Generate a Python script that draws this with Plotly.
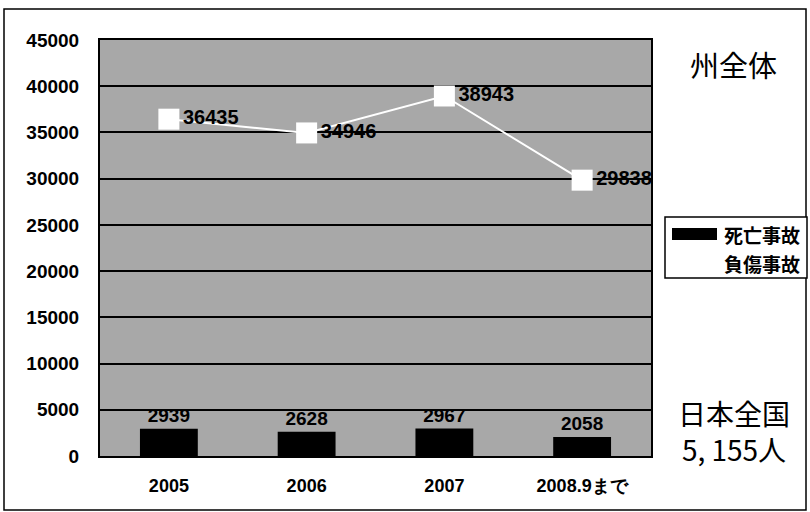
import plotly.graph_objects as go

# Data
categories = ["2005", "2006", "2007", "2008.9まで"]
fatal = [2939, 2628, 2967, 2058]        # 死亡事故
injury = [36435, 34946, 38943, 29838]   # 負傷事故
y_ticks = [0, 5000, 10000, 15000, 20000, 25000, 30000, 35000, 40000, 45000]

W, H = 810, 512
L, R, T, B = 100, 651, 40, 456


def px(x):
    return (x - L) / (R - L)


def py(y):
    return (B - y) / (B - T)


NUM = "Liberation Sans, Arial"
CJK = "Noto Sans CJK JP"

fig = go.Figure()

fig.add_trace(go.Bar(
    x=categories, y=fatal, name="死亡事故",
    marker=dict(color="black", line=dict(width=0)),
    width=0.42,
    text=fatal, textposition="outside", cliponaxis=False,
    textfont=dict(family=NUM, size=19, color="black", weight="bold"),
    showlegend=False,
))

fig.add_trace(go.Scatter(
    x=categories, y=injury, name="負傷事故",
    mode="lines+markers+text",
    line=dict(color="white", width=2),
    marker=dict(symbol="square", size=21, color="white"),
    text=[f"{v}" for v in injury], textposition="middle right",
    textfont=dict(family=NUM, size=20, color="black", weight="bold"),
    cliponaxis=False, showlegend=False,
))

fig.update_layout(
    width=W, height=H,
    margin=dict(l=L, r=W - R, t=T, b=H - B),
    paper_bgcolor="white",
    plot_bgcolor="#a8a8a8",
    font=dict(family=NUM, color="black"),
    xaxis=dict(
        type="category", range=[-0.5, 3.5],
        showgrid=False, zeroline=False,
        showline=True, linecolor="black", linewidth=2, mirror=True,
        ticks="", ticklabelstandoff=12,
        tickfont=dict(family=NUM, size=18, color="black", weight="bold"),
    ),
    yaxis=dict(
        range=[0, 45000], tickvals=y_ticks,
        ticktext=[str(v) for v in y_ticks],
        showgrid=True, gridcolor="black", gridwidth=1.5,
        zeroline=False,
        showline=True, linecolor="black", linewidth=2, mirror=True,
        ticks="", ticklabelstandoff=15,
        tickfont=dict(family=NUM, size=19, color="black", weight="bold"),
    ),
)

# Outer frame
fig.add_shape(type="rect", xref="paper", yref="paper",
              x0=px(4), x1=px(806), y0=py(510), y1=py(9),
              line=dict(color="black", width=1.5), fillcolor="rgba(0,0,0,0)",
              layer="below")

# Legend box
fig.add_shape(type="rect", xref="paper", yref="paper",
              x0=px(665), x1=px(807), y0=py(278), y1=py(217),
              line=dict(color="black", width=1.5), fillcolor="white")
fig.add_shape(type="rect", xref="paper", yref="paper",
              x0=px(672), x1=px(717), y0=py(240), y1=py(228),
              line=dict(width=0), fillcolor="black")
fig.add_shape(type="line", xref="paper", yref="paper",
              x0=px(672), x1=px(717), y0=py(263), y1=py(263),
              line=dict(color="white", width=2))

legend_items = [("死亡事故", 234), ("負傷事故", 263)]
for label, yy in legend_items:
    fig.add_annotation(text=label, xref="paper", yref="paper",
                       x=px(722), y=py(yy), xanchor="left", yanchor="middle",
                       showarrow=False,
                       font=dict(family=CJK, size=19, color="black", weight="bold"))

# Side captions
fig.add_annotation(text="州全体", xref="paper", yref="paper",
                   x=px(733), y=py(64), xanchor="center", yanchor="middle",
                   showarrow=False,
                   font=dict(family=CJK, size=29, color="black"))
fig.add_annotation(text="日本全国<br>5, 155人", xref="paper", yref="paper",
                   x=px(734), y=py(431), xanchor="center", yanchor="middle",
                   align="center", showarrow=False,
                   font=dict(family=CJK, size=28, color="black"))

fig.write_html("out.html")
